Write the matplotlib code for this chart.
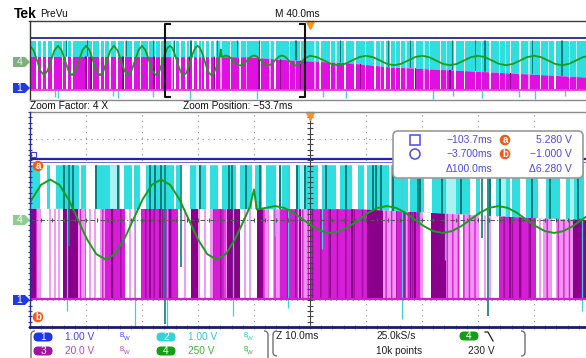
import numpy as np
import matplotlib.pyplot as plt
from matplotlib.patches import FancyBboxPatch, Polygon, Circle, Rectangle, PathPatch
from matplotlib.path import Path

plt.rcParams['font.family'] = ['Liberation Sans', 'DejaVu Sans']
plt.rcParams['hatch.linewidth'] = 1.0

W, H = 586, 358

# time windows (ms)
zoom_t0, zoom_t1 = -103.7, -3.7
rec_t0, rec_t1 = -200.0, 200.0

# levels in divisions
ch1_hi = 2.25
cyan_hi = 2.02
base_lo = -2.97
mag_top_t = [-200, -45, -14, 29, 57, 128, 200]
mag_top_lv = [0.42, 0.38, 0.05, -0.25, -0.65, -1.15, -1.7]

# channel 4 (250 V/div) inside the zoom window
t4_main = [-103.7, -101.75, -100.1, -98.45, -96.8, -95.15, -93.5, -91.85, -90.2,
           -88.55, -86.9, -85.25, -83.6, -81.95, -80.3, -78.65, -77.0, -75.35,
           -73.7, -72.05, -70.4, -68.75, -67.1, -65.45, -64.4, -63.7, -63.2,
           -61.6, -59.95, -58.3, -56.6, -54.95, -53.3, -51.6, -49.95, -48.3,
           -46.6, -44.95, -43.3, -41.6, -40.0, -38.3, -36.65, -35.0, -33.35,
           -31.7, -30.0, -28.35, -26.7, -25.05, -23.4, -21.7, -20.05, -18.4,
           -16.75, -15.1, -13.4, -11.75, -10.1, -8.45, -6.8, -5.1, -3.7]
v4_main = [160, 322, 372, 322, 186, 0, -186, -322, -372,
           -322, -186, 0, 186, 322, 372, 322, 186, 0,
           -186, -322, -372, -322, -186, 0, 121, 279, 93,
           108, 125, 108, 62, 0, -62, -108, -125, -108,
           -62, 0, 62, 108, 125, 108, 62, 0, -62,
           -108, -125, -108, -62, 0, 62, 108, 125, 108,
           62, 0, -62, -108, -125, -108, -62, 0, 52]
# channel 4 before the zoom window, every 2.5 ms from -200 ms
v4_pre = [372, 263, 0, -263, -372, -263, 0, 263,
          372, 263, 0, -263, -372, -263, 0, 263,
          372, 263, 0, -263, -372, -263, 0, 263,
          372, 263, 0, -263, -372, -263, 0, 263,
          372, 263, 0, -263, -372, -263, 0]
# channel 4 after the trigger, every 5 ms from 0 ms
v4_post = [120, 85, 0, -85, -120, -85, 0, 85,
           120, 85, 0, -85, -120, -85, 0, 85,
           120, 85, 0, -85, -120, -85, 0, 85,
           120, 85, 0, -85, -120, -85, 0, 85,
           120, 85, 0, -85, -120, -85, 0, 85, 120]

# zoom window: channel 3 stripes (ms start, ms end)
mag_white = [(-101.7, -97.8), (-93.7, -91.2), (-86.7, -83.9), (-77.3, -74.95),
             (-73.3, -71.6), (-66.2, -63.2), (-33.5, -32.1), (-23.5, -20.0),
             (-13.3, -12.1), (-61.0, -60.3), (-58.2, -57.6), (-27.0, -26.4),
             (-10.5, -9.7)]
mag_mid = [(-90.3, -86.7), (-83.9, -77.3), (-59.1, -56.0), (-53.7, -43.5),
           (-38.35, -36.6), (-20.0, -13.3), (-71.0, -69.0), (-36.0, -34.0)]
mag_dark = [(-103.7, -102.6), (-97.8, -95.1), (-74.95, -73.7), (-68.5, -66.2),
            (-63.2, -62.1), (-43.5, -40.7), (-32.1, -29.4), (-6.7, -3.7),
            (-89.2, -88.9), (-82.4, -82.1), (-80.6, -80.3), (-78.8, -78.5),
            (-55.6, -55.3), (-50.2, -49.9), (-46.3, -46.0), (-35.9, -35.6),
            (-35.1, -34.8), (-18.1, -17.8), (-16.3, -16.0), (-14.5, -14.2)]
mag_pinklines = [-100.1, -99.2, -98.5, -93.0, -92.1, -85.8, -84.95, -76.0,
                 -72.45, -65.3, -64.4, -22.45, -21.55, -12.6]
# zoom window: channel 2 stripes
cyan_white = [(-101.9, -100.7), (-100.1, -99.1), (-93.7, -91.9), (-87.6, -86.9),
              (-84.1, -83.0), (-76.9, -75.1), (-72.3, -71.6), (-70.1, -69.4),
              (-66.9, -66.2), (-62.3, -61.6), (-59.8, -58.7), (-57.3, -56.2),
              (-52.3, -51.6), (-49.05, -48.35), (-46.2, -45.1), (-33.35, -31.9),
              (-25.15, -24.05), (-23.35, -20.5), (-16.2, -15.1), (-13.0, -11.6),
              (-9.05, -7.95), (-95.0, -94.6), (-85.5, -85.1), (-78.0, -77.6),
              (-64.0, -63.6), (-44.0, -43.6), (-39.6, -39.2), (-36.2, -35.8),
              (-28.8, -28.4), (-18.0, -17.6), (-4.8, -4.4)]
cyan_pale = [(-89.4, -88.0), (-74.05, -73.35), (-55.5, -54.4), (-29.4, -27.6),
             (-19.8, -18.7), (-7.3, -6.6)]
teal_short = [-97.6, -96.0, -91.9, -88.0, -82.3, -81.4, -80.3, -73.35, -68.2,
              -67.6, -65.1, -62.6, -59.1, -56.0, -54.6, -50.85, -47.3, -42.45,
              -41.9, -41.0, -38.9, -34.1, -30.15, -26.7, -21.6, -19.8, -14.05,
              -10.85, -5.85]
teal_long_t = [-96.7, -79.6, -76.7, -34.4, -23.0, -21.9]
teal_long_lo = [-1.0, -3.9, -1.75, -0.2, -0.7, -3.6]
spike_t = [-97.1, -84.95, -79.2, -67.45, -59.95, -57.6, -51.55, -37.3, -29.6, -5.1]
spike_lo = [-3.4, -4.0, -4.0, -3.6, -0.6, -3.3, -1.1, -3.7, -1.5, -3.4]

# overview stripes
ov_white = [(-195.5, -194.5), (-192, -191), (-188.5, -187.5), (-184, -183),
            (-177.5, -176.5), (-174, -173), (-170.5, -169.5), (-159.5, -158.5),
            (-156, -155), (-150.5, -149.5), (-147.5, -146.5), (-143.5, -142.5),
            (-138.5, -137.5), (-133, -132), (-127, -126), (-121.5, -120.5),
            (-116, -115), (-111, -110), (-107.5, -106.5), (-97, -96),
            (-93.5, -92.5), (-89, -88), (-84, -83), (-81, -79.5), (-76, -74.5),
            (-72, -71), (-68.5, -67.5), (-57.5, -56.5), (-50.5, -49.5),
            (-36, -35), (-25.5, -24.5), (-15, -14), (-7.5, -6.5), (-4, -3),
            (6.5, 7.5), (14, 15), (24.5, 25.5), (31.5, 32.5), (39, 40), (46, 47),
            (53, 54.5), (57, 58), (60.5, 61.5), (64, 65), (74.5, 75.5), (85, 86),
            (92.5, 93.5), (103, 104), (110, 111), (117.5, 118.5), (128, 129),
            (135, 136), (142.5, 143.5), (149.5, 150.5), (164, 165),
            (174.5, 175.5), (185, 186)]
ov_pale = [(-99, -98), (-86.5, -85.5), (-78, -77), (-64, -63), (-46, -45),
           (-29, -28), (-11, -10), (3, 4), (18, 19), (50, 51), (68, 69), (81, 82),
           (97, 98), (122, 123), (139, 140), (156, 157), (170, 171), (190, 191)]
ov_dark = [-160, -156.5, -133.5, -111.5, -86, -68, -36.5, -21, -7, 36, 75.5,
           100, 143]
ov_teal = [-174, -159, -131, -112, -97, -85, -66, -52, -36, -10, 22, 56, 72,
           102, 118, 125, 159, 180]
ov_spike_t = [-182, -180, -141, -137, -112, -86, -38, 9, 26, 88, 102, 123,
              149, 161, 182]
ov_spike_lo = [-3.7, -3.8, -3.6, -3.8, -3.7, -3.9, -3.9, -3.7, -3.8, -3.9,
               -3.6, -3.8, -3.7, -3.9, -3.6]

CYAN = '#2fdede'
CYAN_PALE = '#a8f2f2'
TEAL = '#0b7d7d'
PINK = '#f39cf3'
MAG = '#d61ed6'
DARK = '#8a008a'
OV_MAG = '#e010e0'
GREEN = '#1c9c1c'
BLUE = '#2222aa'


def spans(pairs):
    return [(a, b - a) for a, b in pairs]


def lines(ts, w):
    return [(t - w / 2, w) for t in ts]


def clipped(a, xr, color, clip, z=3, **kw):
    c = a.broken_barh(xr, (-5, 10), facecolors=color, linewidth=0, zorder=z, **kw)
    c.set_clip_path(clip.get_paths()[0], clip.get_transform())
    return c


fig = plt.figure(figsize=(W / 100, H / 100), dpi=100)
fig.patch.set_facecolor('white')


def frac(x0, y0, x1, y1):
    return [x0 / W, 1 - y1 / H, (x1 - x0) / W, (y1 - y0) / H]


# ---------------- overview ----------------
ov = fig.add_axes(frac(30, 21, 590, 100))
ov.set_xlim(rec_t0, rec_t1)
ov.set_ylim(-4, 4)
ov.axis('off')

ov_cy = ov.fill_between(mag_top_t, mag_top_lv, cyan_hi, color=CYAN, lw=0, zorder=2)
ov_mg = ov.fill_between(mag_top_t, base_lo, mag_top_lv, color=OV_MAG, lw=0, zorder=2)
clipped(ov, spans(ov_white), 'white', ov_cy)
clipped(ov, spans(ov_white), 'white', ov_mg)
clipped(ov, spans(ov_pale), CYAN_PALE, ov_cy)
clipped(ov, spans(ov_pale), PINK, ov_mg)
clipped(ov, lines(ov_teal, 0.9), TEAL, ov_cy)
clipped(ov, lines(ov_dark, 0.9), DARK, ov_mg)
ov.vlines(ov_spike_t, ov_spike_lo, base_lo, color='#3fd0dc', lw=1.0, zorder=3)
ov.axhline(ch1_hi, color=BLUE, lw=1.3, zorder=4)
ov.axhline(base_lo, color='#e040e0', lw=1.3, zorder=4)

t4_all = (list(np.arange(len(v4_pre)) * 2.5 + rec_t0) + t4_main
          + list(np.arange(len(v4_post)) * 5.0))
v4_all = v4_pre + v4_main + v4_post
ov.plot(t4_all, np.array(v4_all) / 250, color=GREEN, lw=1.3, zorder=6)

# zoom bracket
bx = [zoom_t0 + 3.5, zoom_t0, zoom_t0, zoom_t0 + 3.5]
ov.plot(bx, [3.7, 3.7, -3.7, -3.7], color='#111111', lw=1.5, zorder=7, clip_on=False)
bx = [zoom_t1 - 3.5, zoom_t1, zoom_t1, zoom_t1 - 3.5]
ov.plot(bx, [3.7, 3.7, -3.7, -3.7], color='#111111', lw=1.5, zorder=7, clip_on=False)
ov.plot([0], [3.6], marker='v', ms=6, color='#f7941d', zorder=8, clip_on=False)

# ---------------- zoom window ----------------
ax = fig.add_axes(frac(30, 112, 590, 327))
ax.set_xlim(zoom_t0, zoom_t1)
ax.set_ylim(-4, 4)
ax.axis('off')

for k in range(1, 10):
    if k != 5:
        ax.axvline(zoom_t0 + 10 * k, color='#8c8c8c', lw=0.8, ls=(0, (1, 4)), zorder=1)
for k in range(-3, 4):
    if k != 0:
        ax.axhline(k, color='#8c8c8c', lw=0.8, ls=(0, (1, 4)), zorder=1)

cy = ax.fill_between(mag_top_t, mag_top_lv, cyan_hi, color=CYAN, lw=0, zorder=2)
mg = ax.fill_between(mag_top_t, base_lo, mag_top_lv, facecolor='#f294f2',
                     edgecolor=MAG, hatch='|||', lw=0, zorder=2)
clipped(ax, spans(cyan_white), 'white', cy)
clipped(ax, spans(cyan_pale), CYAN_PALE, cy)
clipped(ax, lines(teal_short, 0.3), TEAL, cy)
clipped(ax, spans(mag_white), 'white', mg)
clipped(ax, lines(mag_pinklines, 0.3), PINK, mg)
clipped(ax, spans(mag_mid), MAG, mg, edgecolors='#9a109a', hatch='||')
clipped(ax, spans(mag_dark), DARK, mg)
ax.vlines(teal_long_t, teal_long_lo, cyan_hi, color=TEAL, lw=1.2, zorder=4)
ax.vlines(spike_t, spike_lo, cyan_hi, color='#3fd0dc', lw=0.9, zorder=4)

ax.axhline(ch1_hi, color=BLUE, lw=1.6, zorder=5)
ax.axhline(ch1_hi - 0.12, color='#6a6ad6', lw=0.7, zorder=5)
ax.axhline(base_lo, color='#d21ed2', lw=1.6, zorder=5)

# centre graticule lines with minor ticks
ax.axhline(0, color='#555555', lw=0.8, ls=(0, (4, 2, 1, 2)), zorder=6)
ax.axvline(-53.7, color='#444444', lw=0.8, zorder=6)
ax.plot(np.full(41, -53.7), np.linspace(-4, 4, 41), ls='none', marker='_', ms=4,
        mew=0.8, color='#444444', zorder=6)
ax.plot(np.linspace(zoom_t0, zoom_t1, 51), np.zeros(51), ls='none', marker='|',
        ms=3, mew=0.8, color='#555555', zorder=6)
ax.plot(np.full(41, zoom_t0), np.linspace(-4, 4, 41), ls='none', marker='_', ms=3,
        mew=0.8, color='#3030c0', zorder=6, clip_on=False)
ax.plot(np.linspace(zoom_t0, zoom_t1, 51), np.full(51, -4), ls='none', marker='|',
        ms=3, mew=0.7, color='#8a8a8a', zorder=6, clip_on=False)

ax.plot(t4_main, np.array(v4_main) / 250, color=GREEN, lw=1.4, zorder=7)
ax.plot([-53.7], [3.85], marker='v', ms=6, color='#f7941d', zorder=8, clip_on=False)

# ---------------- overlay: frame, labels, readouts ----------------
top = fig.add_axes([0, 0, 1, 1])
top.set_xlim(0, W)
top.set_ylim(H, 0)
top.axis('off')

top.plot([29, 586], [21, 21], color='#404040', lw=1.0)
top.plot([29.5, 29.5], [21, 100], color='#303030', lw=1.0)
top.plot([30, 586], [100, 100], color='#8a8a8a', lw=1.0)
top.plot([30, 586], [112, 112], color='#8a8a8a', lw=1.0)
top.plot([30, 30], [112, 327], color='#2a2a9a', lw=1.0)
top.plot([30, 586], [327, 327], color='#1a1a70', lw=2.0)

top.text(14, 14, 'Tek', fontsize=10, fontweight='bold', va='center', ha='left')
top.text(40, 14, 'PreVu', fontsize=7.3, va='center', ha='left', color='#111111')
top.text(275, 14, 'M 40.0ms', fontsize=7.3, va='center', ha='left', color='#111111')
top.text(30, 106, 'Zoom Factor: 4 X', fontsize=7.3, va='center', ha='left', color='#111111')
top.text(183, 106, 'Zoom Position: \u221253.7ms', fontsize=7.3, va='center', ha='left',
         color='#111111')


def ch_marker(y, label, fc, tc):
    top.add_patch(Polygon([(13, y - 5), (25, y - 5), (30, y), (25, y + 5), (13, y + 5)],
                          closed=True, fc=fc, ec='none', zorder=5))
    top.text(19.5, y + 0.3, label, fontsize=7.5, color=tc, ha='center', va='center',
             zorder=6)


ch_marker(62, '4', '#7fae7f', '#e6f2e6')
ch_marker(88, '1', '#1f3ae6', 'white')
ch_marker(220, '4', '#8ccf8c', 'white')
ch_marker(300, '1', '#1f3ae6', 'white')


def orange_dot(x, y, label):
    top.add_patch(Circle((x, y), 5.3, fc='#f05a14', ec='none', zorder=6))
    top.text(x, y + 0.3, label, fontsize=7, color='white', fontweight='bold',
             ha='center', va='center', zorder=7)


orange_dot(38, 166, 'a')
orange_dot(38, 317, 'b')
top.add_patch(Rectangle((30.5, 152), 5, 5, fc='none', ec='#3a3ad0', lw=0.8, zorder=6))

# cursor readout box
top.add_patch(FancyBboxPatch((393, 131), 190, 47,
                             boxstyle='round,pad=0,rounding_size=5',
                             fc='white', ec='#9a9a9a', lw=1.2, zorder=8))
BOXTXT = '#4a4ae6'
top.add_patch(Rectangle((410, 135), 10, 10, fc='none', ec=BOXTXT, lw=1.1, zorder=9))
top.add_patch(Circle((415, 154), 5, fc='none', ec=BOXTXT, lw=1.1, zorder=9))
cur_time = ['\u2212103.7ms', '\u22123.700ms', '\u0394100.0ms']
cur_volt = ['5.280 V', '\u22121.000 V', '\u03946.280 V']
for yy, tt, vv in zip([140, 154, 169], cur_time, cur_volt):
    top.text(492, yy, tt, fontsize=7.5, color=BOXTXT, ha='right', va='center', zorder=9)
    top.text(572, yy, vv, fontsize=7.5, color=BOXTXT, ha='right', va='center', zorder=9)
for yy, lab in zip([140, 154], ['a', 'b']):
    top.add_patch(Circle((505, yy), 5.3, fc='#f05a14', ec='none', zorder=9))
    top.text(505, yy + 0.3, lab, fontsize=7, color='white', fontweight='bold',
             ha='center', va='center', zorder=10)


# status bar
def bracket(x, y0, y1, d):
    verts = [(x + 4 * d, y0), (x, y0), (x, y0 + 4), (x, y1 - 4), (x, y1), (x + 4 * d, y1)]
    codes = [Path.MOVETO, Path.CURVE3, Path.CURVE3, Path.LINETO, Path.CURVE3, Path.CURVE3]
    top.add_patch(PathPatch(Path(verts, codes), fc='none', ec='#707070', lw=1.0))


bracket(31, 331, 362, 1)
bracket(268, 331, 362, -1)
bracket(273, 331, 356, 1)
bracket(525, 331, 356, -1)


def pill(x, y, label, fc):
    top.add_patch(FancyBboxPatch((x - 9.5, y - 4.5), 19, 9,
                                 boxstyle='round,pad=0,rounding_size=4.5',
                                 fc=fc, ec='none', zorder=5))
    top.text(x, y + 0.3, label, fontsize=7.3, color='white', ha='center', va='center',
             zorder=6)


def bw(x, y, color):
    top.text(x, y - 1.5, 'B', fontsize=4.8, color=color, ha='left', va='center')
    top.text(x + 3.5, y + 1.8, 'W', fontsize=4.3, color=color, ha='left', va='center')


ch_pill = ['#1f36e6', '#33d4d4', '#a014a0', '#12a012']
ch_txt = ['#4040ff', '#2ec8d6', '#c040c0', '#3cb03c']
ch_scale = ['1.00 V', '1.00 V', '20.0 V', '250 V']
for i in range(4):
    xx = 43 if i % 2 == 0 else 166
    yy = 337 if i < 2 else 351
    pill(xx, yy, str(i + 1), ch_pill[i])
    top.text(xx + 22, yy, ch_scale[i], fontsize=7.3, color=ch_txt[i], ha='left',
             va='center')
    bw(xx + 77, yy, ch_txt[i])

top.text(276, 336, 'Z 10.0ms', fontsize=7.3, color='#202020', ha='left', va='center')
top.text(376, 336, '25.0kS/s', fontsize=7.3, color='#202020', ha='left', va='center')
top.text(376, 351, '10k points', fontsize=7.3, color='#202020', ha='left', va='center')
pill(469, 336, '4', '#12a012')
top.plot([485, 488, 493], [332, 332, 341], color='#202020', lw=0.9)
top.text(468, 351, '230 V', fontsize=7.3, color='#202020', ha='left', va='center')

fig.savefig('out.png', dpi=100)
